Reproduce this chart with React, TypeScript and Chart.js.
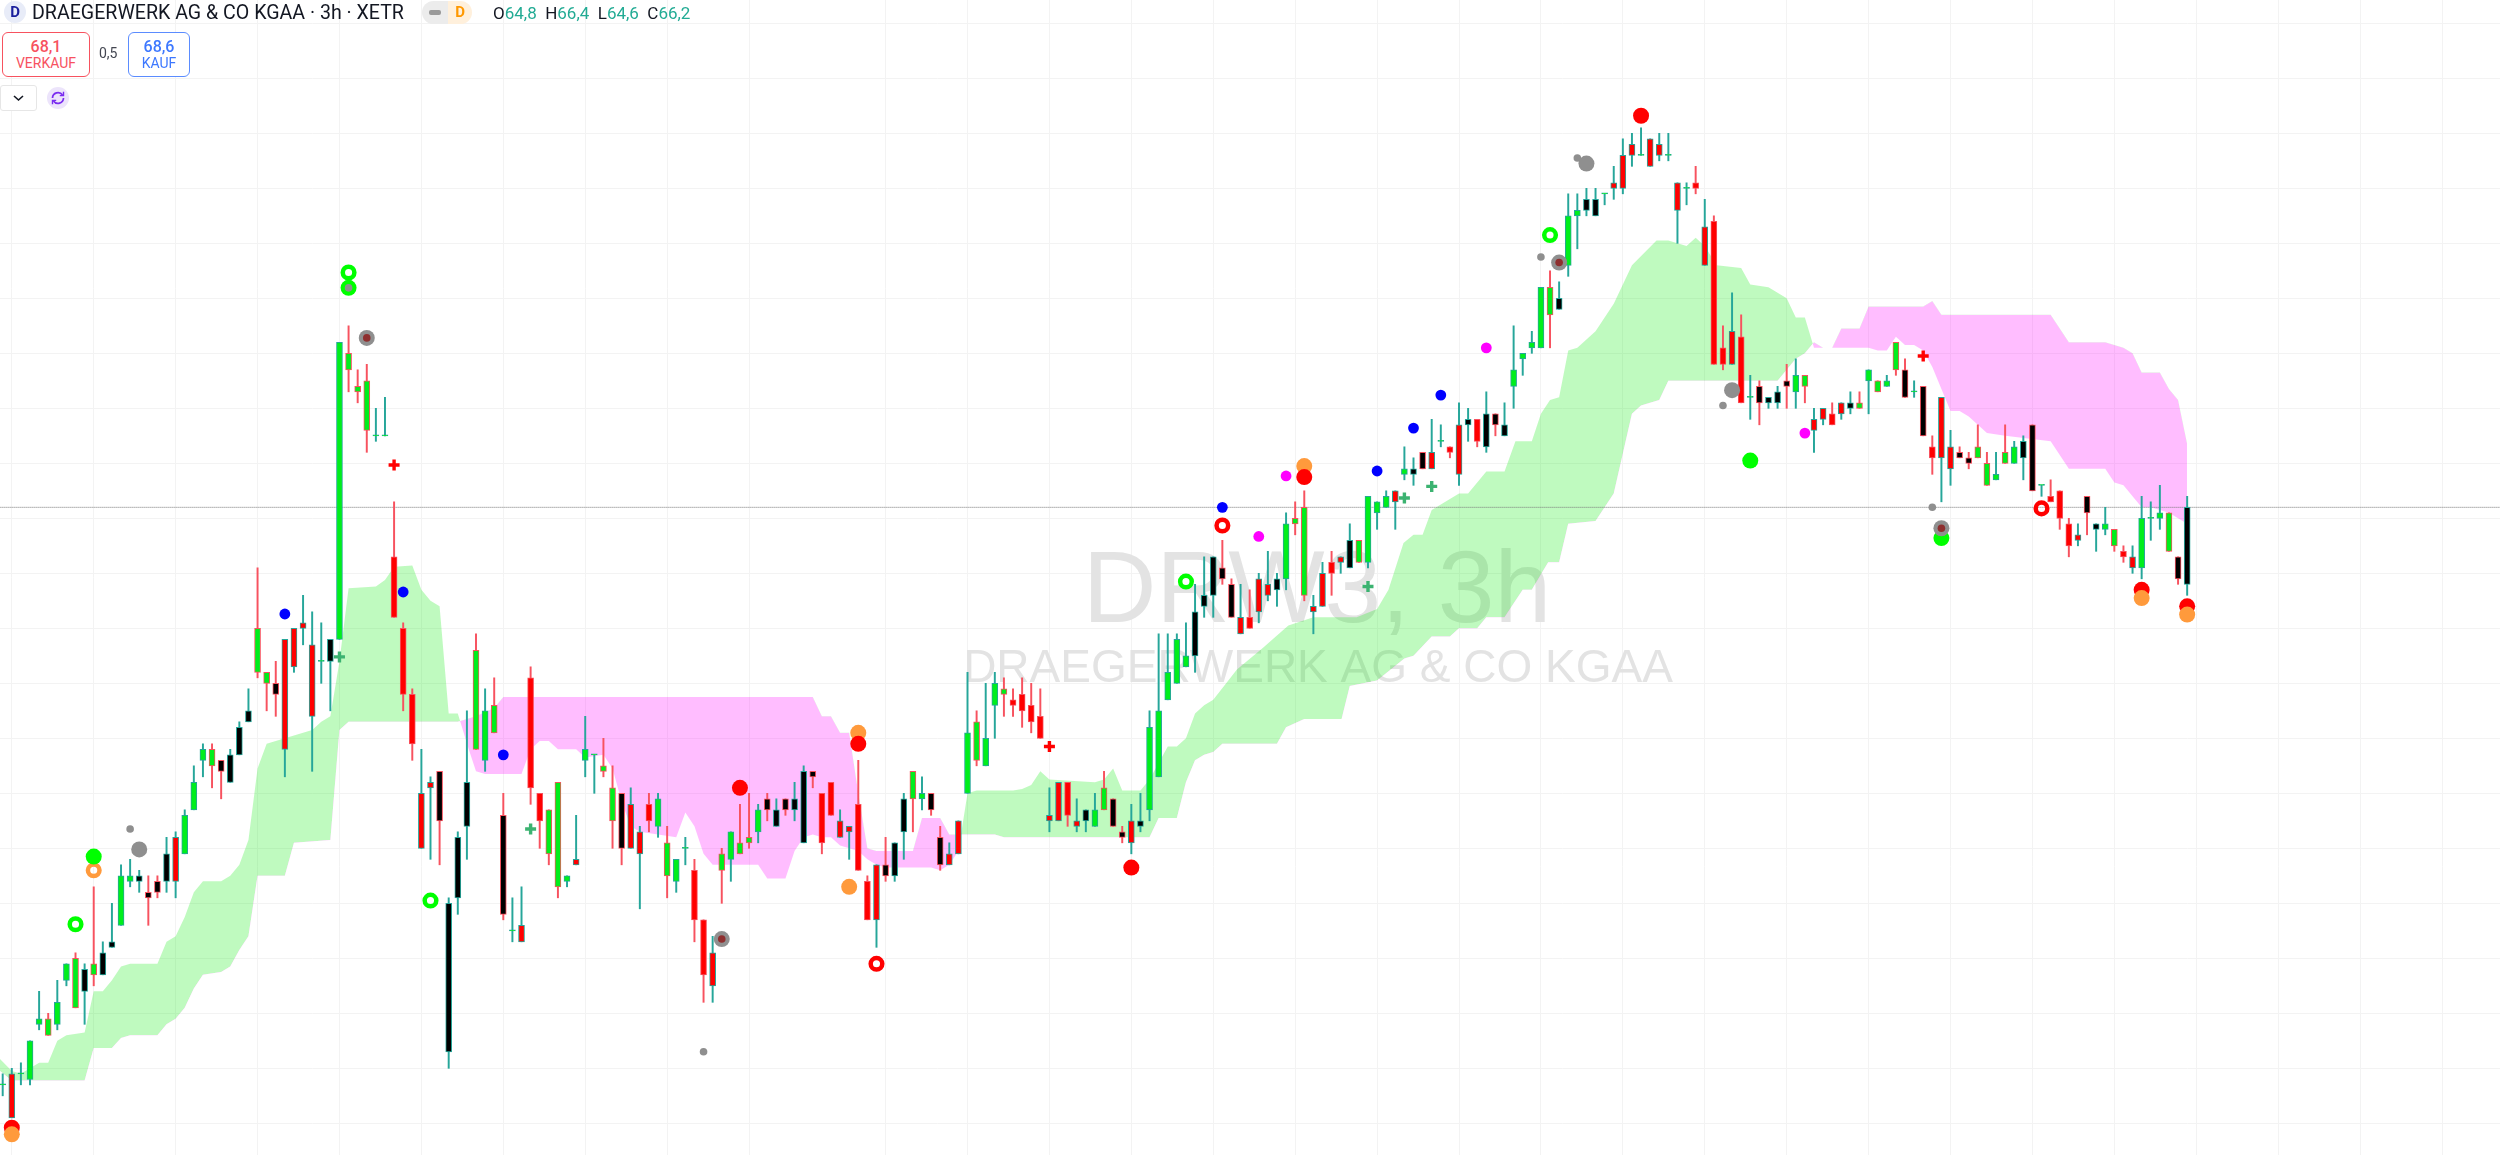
import React, { useEffect, useRef } from "react";
import { Chart, registerables } from "chart.js";

Chart.register(...registerables);

const bodyTops = [
55.7,55.9,55.9,56.5,56.9,56.9,57.2,57.9,58,57.8,
57.9,58.1,58.3,59.5,59.5,59.5,59.2,59.4,59.9,60.2,
60.6,61.2,61.8,61.8,61.6,61.7,62.2,62.5,64,63.2,
63,63.8,64,64.1,63.7,63.4,63.8,69.2,69,68.4,
68.5,67.5,67.5,65.3,64,62.8,61,61.2,61.4,59,
60.2,61.2,63.6,62.5,62.6,60.6,58.5,58.6,63.1,61,
60.7,61.2,59.5,59.8,61.8,61.7,61.5,61.1,61,60.8,
60.3,60.8,60.9,60.1,59.8,60,59.6,58.7,58.1,59.9,
60.3,60.1,60.2,60.7,60.9,60.7,60.9,60.9,61.4,61.4,
61,61.2,60.5,60.4,60.8,59.4,59.7,59.7,60.1,60.9,
61.4,61,61,60.2,59.9,60.5,62.1,62.3,62,63,
62.9,62.7,62.8,62.6,62.4,60.6,61.2,61.2,60.5,60.7,
60.7,61.1,60.9,60.3,60.5,60.5,62.2,62.5,63.2,63.8,
63.5,64.3,64.6,65.3,65.1,64.8,64.2,64.2,64.9,64.8,
64.9,65.9,66,66.2,64.4,65,65.2,65.3,65.6,65.6,
66.4,66.3,66.4,66.5,66.9,66.9,67.2,67.2,67.4,67.3,
67.7,67.8,67.8,67.9,67.9,67.7,68.7,69,69.2,70.2,
70.2,70,71.5,71.6,71.8,71.8,71.9,72.1,72.6,72.8,
72.6,72.9,72.8,72.6,72.1,72,72.1,71.3,71.4,69.1,
69.4,69.3,68.2,68.4,68.2,68.3,68.5,68.6,68.6,67.8,
68,67.9,68.1,68.1,68.1,68.7,68.5,68.5,69.2,68.7,
68.3,68.4,67.3,68.2,67.3,67.2,67.1,67.3,67,66.8,
67.2,67.3,67.4,67.7,66.6,66.4,66.5,65.9,65.7,66.4,
65.9,65.9,65.8,65.4,65.3,66,66,66.1,66.1,65.3,66.2];

const bodyBottoms = [
55.7,55.1,55.9,55.8,56.8,56.6,56.8,57.6,57.1,57.4,
57.7,57.7,58.2,58.6,59.4,59.4,59.1,59.2,59.4,59.4,
59.9,60.7,61.6,61.5,61.4,61.2,61.7,62.3,63.2,63,
62.8,61.8,63.3,64,62.4,63.4,63.4,63.8,68.7,68.3,
67.6,67.5,67.5,64.2,62.8,61.9,60,61.1,60.5,56.3,
59.1,60.4,61.8,61.6,62.1,58.8,58.5,58.3,61.1,60.5,
59.9,59.3,59.4,59.7,61.6,61.7,61.4,60.5,60,60,
59.9,60.5,60.4,59.5,59.4,60,58.7,57.7,57.5,59.6,
59.8,59.9,60.1,60.3,60.7,60.4,60.7,60.7,60.1,61.3,
60.1,60.6,60.2,60.3,59.6,58.7,58.7,59.5,59.5,60.3,
60.9,60.9,60.7,59.7,59.7,59.9,61,61.6,61.5,62.6,
62.8,62.6,62.5,62.3,62,60.5,60.5,60.6,60.4,60.5,
60.4,60.7,60.4,60.2,60.1,60.4,60.7,61.3,62.7,63,
63.3,63.5,64.4,64.6,64.9,64.2,63.9,64,64.3,64.6,
64.7,64.9,65.9,64.6,64.3,64.4,65,65.2,65.1,65.2,
65.2,66.1,66.2,66.3,66.8,66.8,66.9,66.9,67.4,67.2,
66.8,67.7,67.4,67.3,67.7,67.5,68.4,68.9,69.1,69.1,
69.7,69.8,70.6,71.5,71.6,71.5,71.9,72,72,72.6,
72.6,72.4,72.6,72.6,71.6,72,72,70.6,68.8,68.8,
68.8,68.1,68.2,68.1,68.1,68.1,68.4,68.3,68.4,67.6,
67.8,67.7,67.9,68,68,68.5,68.3,68.4,68.7,68.2,
68.3,67.5,67.1,67.1,66.9,67.1,67,67.1,66.6,66.7,
67,67,67.1,66.5,66.6,66.3,66,65.5,65.6,66.1,
65.8,65.8,65.5,65.3,65.1,65.1,66,66,65.4,64.9,64.8];

const highs = [
55.9,56,56.1,56.5,57.4,57,57.6,57.9,58.1,57.9,
59.3,58.3,59,59.7,59.8,59.6,59.5,59.5,60.2,60.3,
60.7,61.5,61.9,61.9,61.6,61.8,62.3,62.9,65.1,63.2,
63.4,63.8,64,64.6,64.3,64.1,63.8,69.2,69.5,68.7,
68.8,68,68.2,66.3,64.1,62.9,61.8,61.3,61.4,59.1,
60.3,62.5,63.9,62.9,63.1,61,59.1,59.3,63.3,61,
60.7,61.2,59.5,60.6,62.4,61.7,62,61.5,61,61.1,
60.4,61,61,60.4,59.8,60.2,59.8,58.7,58.4,60,
60.3,60.8,61,60.8,61,60.9,60.9,61.2,61.5,61.4,
61,61.2,60.7,60.4,61.6,59.5,59.7,60.2,60.1,61,
61.4,61.3,61,60.4,60.1,60.5,63.2,62.5,63,63.2,
63.1,62.9,63.1,63,62.9,61.1,61.2,61.2,60.9,60.7,
61,61.4,60.9,60.4,60.8,61,62.5,63.9,63.9,63.9,
64.1,64.8,65.3,65.3,65.6,64.9,64.8,64.7,65,65.4,
65,66.1,66.3,66.5,64.6,65.2,65.4,65.3,65.9,65.6,
66.4,66.3,66.5,66.5,67.3,67.1,67.2,67.8,67.7,67.3,
68.1,68,67.8,68.3,67.9,68.1,69.5,69,69.4,70.2,
70.5,70.3,71.9,71.9,72,72,71.9,72.4,72.9,73,
73.1,72.9,73,73,72.1,72.1,72.4,71.8,71.5,69.5,
70.1,69.7,68.6,68.5,68.2,68.4,68.8,68.9,68.6,68,
68,68.1,68.1,68.3,68.3,68.7,68.5,68.6,69.2,68.9,
68.5,68.4,67.5,68.2,67.6,67.3,67.2,67.7,67.2,67.2,
67.7,67.4,67.5,67.7,66.6,66.7,66.5,66,65.9,66.4,
65.9,66.2,65.8,65.5,65.5,66.4,66.3,66.6,66.1,65.3,66.4];

const lows = [
55.5,55.1,55.7,55.7,56.7,56.6,56.7,57.5,57.1,56.8,
57.5,57.7,58.2,58.6,59.3,59.2,58.6,59.1,59.2,59.1,
59.9,60.7,61.3,61.1,60.9,61.2,61.7,62.3,63.1,62.5,
62.4,61.3,63.2,63.7,61.4,63,62.5,63.8,68.3,68.1,
67.2,67.4,67.5,64.2,62.5,61.6,60,59.8,59.7,56,
58.8,59.8,61.8,61.4,62.1,58.7,58.3,58.3,60.8,60,
59.7,59.1,59.3,59.7,61.3,61,61.3,60,59.7,60,
58.9,60.3,60.2,59.1,59.2,59.7,58.3,57.2,57.2,59,
59.4,59.9,60,60.1,60.5,60.4,60.6,60.5,60.1,61.1,
59.9,60.6,60.2,59.8,59.6,58.7,58.2,59.4,59.4,59.8,
60.3,60.7,60.6,59.6,59.7,59.9,61,61.5,61.5,62,
62.4,62.4,62.2,62.1,62,60.3,60.5,60.4,60.3,60.3,
60.4,60.7,60.4,60.1,59.9,60.3,60.5,61.3,62.7,63,
63.3,63.2,64.2,64.2,64.8,64.2,63.9,64,64.1,64.5,
64.4,64.7,65.7,64.5,63.9,64.4,64.6,65,65.1,65.2,
65.1,65.8,66.2,65.8,66.7,66.6,66.9,66.9,67.3,67.1,
66.6,67.4,67.3,67.2,67.5,67.5,68,68.6,69,69.1,
69.1,69.8,70.4,70.9,71.5,71.5,71.7,71.8,71.9,72.4,
72.6,72.4,72.5,72.5,71,71.7,71.9,70.6,68.8,68.7,
68.8,68.1,67.8,67.7,68,68,68,68,68.1,67.2,
67.7,67.7,67.8,67.9,68,67.9,68.3,68.4,68.6,68.2,
68.2,67.5,66.8,66.3,66.6,67.1,66.9,67.1,66.6,66.7,
67,67,66.7,66.5,66.4,66.3,65.8,65.3,65.5,65.7,
65.4,65.7,65.4,65.2,65,64.9,65.6,65.8,65.4,64.8,64.6];

const directions = (
"uuuuuduudu duuuuudduu uuudduuudd duuuuuuudd duuddduudu uududduudd dduuuudddu ududuuddud uddududuud dduudduduu " +
"dudduuuduu ddddduuduu uddduuuuuu uuuudduduu uudduuduud uuuuuuduud uududuuuuu duuuuuuuuu uuuuuududd ududuududu " +
"uduudududd udduuddddu duududddud uudduuuuddu"
).replace(/ /g, "");

const bodyFills = (
"grgggggggk gkkggkkkkr ggggkkkkgg krrrrgkggg gggrrrrrkk kkgggkgrrr gggrggggkr rrggggrrrg ggggkkkkkk rrrrrrrkkk " +
"ggkkrrgggg grrrrrrrrk ggkkrkgggg gkkkkkrrrr kgggrrrrkg gggrgkkrgr rkrkkkgggg gkggkkgrrr grrgrgrrrr rrgkkkkggr " +
"rrrkgggggk gkrrrkkggg ggkkgrrrrk kggrrggggkk"
).replace(/ /g, "");

const spanA: [number, number][] = [
[-0.3,56.17],[1,55.95],[2,55.9],[3,56],[4,56.1],[5,56.1],[6,56.5],[7,56.6],[9,56.65],[10,57.4],[11,57.4],[12,57.6],[13,57.85],[14,57.9],[17,57.9],[18,58.3],[19,58.4],[20,58.75],[21,59.2],[22,59.4],[24,59.4],[25,59.5],[26,59.7],[27,60.15],[28,61.45],[29,61.9],[31,62],[32,62.05],[33,62.1],[34,62.15],[35,62.3],[36,62.4],[37,63.4],[38,64.73],[41,64.76],[42,64.88],[43,65.12],[45,65.14],[46,64.7],[47,64.5],[48,64.4],[49,62.45],[50,62.45],
[51.2,61.8],[52,61.4],[53,61.35],[57,61.35],[58,61.8],[59,61.95],[60,61.95],[61,61.8],[63,61.8],[64,61.65],[66,61.7],[67,61.45],[68,60.85],[69,60.4],[70,60.3],[72,60.25],[74,60.2],[75,60.65],[76,60.4],[77,59.9],[78,59.7],[83,59.7],[84,59.45],[86,59.45],[87,59.95],[88,60.2],[89,60.25],[90,60.2],[91,60.2],[92,60.05],[93,60],[94,59.95],[95,59.8],[96,59.7],[97,59.65],[102,59.65],[103,59.6],[104,59.7],[105,59.95],
[106,61],[107,61.05],[111,61.05],[112,61.08],[113,61.15],[114,61.4],[115,61.25],[120,61.2],[121,61.25],[122,61.45],[123,61.05],[125,61.05],[126,61.25],[127,61.55],[128,61.85],[129,61.85],[130,62],[131,62.45],[132,62.6],[133,62.7],[135.6,63.25],[138.5,63.65],[141.25,64.05],[144,64.2],[148.75,64.2],[151,64.35],[152.25,64.7],[153.9,65.55],[155,65.7],[156,65.7],[157,66.15],[160,66.45],[161,66.45],[163,66.85],[165,66.85],[166.2,67.4],[168,67.4],[169,67.9],[170,68.15],[171,68.2],[172,69.05],[173,69.1],[175,69.4],[177,69.9],[179,70.6],[181.7,71.05],[183,71.05],[184,71],[185,70.95],[186,71.1],[187,70.95],[188.3,70.6],[191,70.55],[192,70.25],[194,70.2],[196,70],[197,69.65],[198,69.65],
[199,69.1],[204,69.1],[205,69.1],[206,69.05],[207,69.05],[208,69.3],[209,69.15],[210,69.15],[211,69.05],[212,68.75],[213,68.35],[214,67.95],[215,67.95],[216,67.85],[217,67.7],[218,67.55],[220,67.5],[225,67.4],[227,66.9],[231,66.9],[232,66.65],[233,66.6],[234,66.4],[235,66.2],[236,66.2],[238,66.1],[240,65.9]];

const spanB: [number, number][] = [
[-0.3,55.95],[1,55.78],[9,55.78],[10,56.37],[12,56.37],[13,56.55],[14,56.6],[17,56.6],[18,56.8],[19,56.9],[20,57.1],[21,57.45],[22,57.7],[24,57.75],[25,57.85],[26,58.15],[27,58.4],[28,59.5],[31,59.5],[32,60.1],[36,60.15],[37,62.15],[38,62.3],[50,62.3],[52,62.4],[54,62.55],[55,62.75],[89,62.75],[90,62.4],[91,62.4],[92,62.1],[93,62.1],[94,61],[95,60],[96,59.95],[100,59.95],[101,60.55],[103,60.55],[104,60.25],[109,60.25],[110,60.2],[126,60.2],[127,60.55],[129,60.55],[130,61.2],[131,61.6],[132,61.7],[133,61.75],[134,61.9],[140,61.9],[141,62.2],[143,62.35],[147.1,62.35],[148,62.95],[151,63.05],[154,63.45],[155,63.5],[157,63.85],[159,63.85],[160,64],[162,64],[163,64.2],[165,64.2],[167,64.7],[168,64.7],[169.8,65.2],[171,65.2],[172,65.9],[175,65.95],[177,66.45],[179,67.9],[180,68.05],[182,68.15],[183,68.5],[195,68.5],[197,68.9],[198,69],
[199,69.2],[200,69.1],[201,69.1],[202,69.45],[204,69.45],[205,69.85],[211,69.85],[212,69.95],[213,69.7],[225,69.7],[227,69.2],[231,69.2],[233,69.1],[234,69],[235,68.65],[237,68.65],[238,68.35],[239,68.15],[240,67.35]];

const orangeUnderRed: [number, number][] = [[94,62.1],[143,66.95]];
const orangeOverRed: [number, number][] = [[1,54.8],[93,59.3],[235,64.55],[240,64.25]];
const redDots: [number, number][] = [[1,54.92],[81,61.1],[94,61.9],[124,59.65],[143,66.75],[180,73.32],[235,64.7],[240,64.4]];
const limeDots: [number, number][] = [[10,59.85],[38,70.19],[192,67.05],[213,65.64]];
const blueDots: [number, number][] = [[31,64.26],[44,64.66],[55,61.7],[134,66.2],[151,66.86],[155,67.64],[158,68.24]];
const magentaDots: [number, number][] = [[138,65.67],[141,66.77],[163,69.1],[198,67.55]];
const grayBig: [number, number][] = [[15,59.98],[40,69.28],[79,58.35],[171,70.65],[174,72.45],[190,68.33],[213,65.82]];
const graySmall: [number, number][] = [[14,60.35],[38,70.19],[77,56.3],[169,70.75],[173,72.55],[189,68.05],[212,66.2]];
const darkCenters: [number, number][] = [[40,69.28],[79,58.35],[171,70.65],[213,65.82]];
const limeRings: [number, number][] = [[8,58.62],[38,70.47],[47,59.05],[130,64.85],[170,71.15]];
const redRings: [number, number][] = [[96,57.9],[134,65.87],[224,66.18]];
const orangeRings: [number, number][] = [[10,59.6]];
const greenPlus: [number, number][] = [[37,63.48],[58,60.35],[150,64.76],[154,66.37],[157,66.58]];
const redPlus: [number, number][] = [[43,66.97],[115,61.85],[211,68.95]];

const lastClose = 66.2;
const gridPrices = [55,56,57,58,59,60,61,62,63,64,65,66,67,68,69,70,71,72,73,74,75];
const gridCandles = [1,10,19,28,37,46,55,64,73,82,97,106,115,124,133,142,151,160,169,178,187,196,205,214,223,232,241,250,259,268];

const TEAL = "#26a69a";
const RED = "#f7525f";
const FILLS: Record<string, string> = { g: "#00ee1c", r: "#ff0000", k: "#000000" };

const xy = (pts: [number, number][]) => pts.map(([x, y]) => ({ x, y }));

function dots(data: [number, number][], color: string, radius: number, order: number) {
  return { type: "scatter", data: xy(data), pointRadius: radius, pointBackgroundColor: color, pointBorderWidth: 0, showLine: false, order };
}
function rings(data: [number, number][], color: string, order: number) {
  return { type: "scatter", data: xy(data), pointRadius: 5.8, pointBackgroundColor: "rgba(255,255,255,0)", pointBorderColor: color, pointBorderWidth: 4.5, showLine: false, order };
}
function plus(data: [number, number][], color: string, order: number) {
  return { type: "scatter", data: xy(data), pointStyle: "cross", pointRadius: 5.5, pointBorderColor: color, pointBorderWidth: 3.4, showLine: false, order };
}

const watermark = {
  id: "watermark",
  beforeDatasetsDraw(chart: any) {
    const { ctx } = chart;
    ctx.save();
    ctx.fillStyle = "#e3e3e3";
    ctx.textAlign = "center";
    ctx.textBaseline = "alphabetic";
    ctx.font = '102px "Liberation Sans"';
    ctx.fillText("DRW3, 3h", 1317, 622);
    ctx.font = '46px "Liberation Sans"';
    ctx.fillText("DRAEGERWERK AG & CO KGAA", 1318, 682);
    ctx.restore();
  },
};

export default function App() {
  const ref = useRef<HTMLCanvasElement>(null);
  useEffect(() => {
    const idx = bodyTops.map((_, i) => i);
    const strokes = idx.map((i) => (directions[i] === "u" ? TEAL : RED));
    const chart = new Chart(ref.current as HTMLCanvasElement, {
      type: "bar",
      data: {
        datasets: [
          { type: "line", data: xy(spanA), borderWidth: 0, pointRadius: 0, tension: 0, fill: { target: 1, above: "rgba(0,235,0,0.25)", below: "rgba(255,0,255,0.26)" }, order: 40 },
          { type: "line", data: xy(spanB), borderWidth: 0, pointRadius: 0, tension: 0, fill: false, order: 41 },
          { type: "line", data: [{ x: -1, y: lastClose }, { x: 275, y: lastClose }], borderColor: "#777777", borderWidth: 1, borderDash: [1, 1], pointRadius: 0, order: 30 },
          { type: "bar", data: idx.map((i) => ({ x: i, y: [lows[i], highs[i]] })), backgroundColor: strokes, borderWidth: 0, barThickness: 1.3, grouped: false, order: 21 },
          { type: "bar", data: idx.map((i) => ({ x: i, y: [bodyBottoms[i], bodyTops[i]] })), backgroundColor: idx.map((i) => FILLS[bodyFills[i]]), borderColor: strokes, borderWidth: 1, borderSkipped: false, barThickness: 6, minBarLength: 1, grouped: false, order: 20 },
          dots(orangeUnderRed, "#ff9a3c", 8, 12),
          dots(redDots, "#ff0000", 8, 11),
          dots(orangeOverRed, "#ff9a3c", 8, 10),
          rings(orangeRings, "#ff9a3c", 9),
          dots(limeDots, "#00ff00", 8, 8),
          rings(limeRings, "#00ff00", 7),
          rings(redRings, "#ff0000", 7),
          dots(blueDots, "#0000ff", 5.4, 6),
          dots(magentaDots, "#ff00ff", 5.4, 6),
          dots(grayBig, "#8f8f8f", 8, 5),
          dots(graySmall, "#8f8f8f", 3.8, 4),
          dots(darkCenters, "#8e2f2f", 3.8, 3),
          plus(greenPlus, "#3cb371", 2),
          plus(redPlus, "#ff0000", 2),
        ] as any,
      },
      options: {
        responsive: false,
        animation: false,
        events: [],
        layout: { padding: 0, autoPadding: false },
        plugins: { legend: { display: false }, tooltip: { enabled: false } },
        scales: {
          x: {
            type: "linear", offset: false, min: -0.2966, max: 274.37,
            ticks: { display: false }, border: { display: false },
            grid: { color: "#f3f3f3", drawTicks: false, offset: false, lineWidth: 1 },
            afterBuildTicks: (s: any) => { s.ticks = gridCandles.map((value) => ({ value })); },
          },
          y: {
            type: "linear", min: 54.424, max: 75.424,
            ticks: { display: false }, border: { display: false },
            grid: { color: "#f3f3f3", drawTicks: false, lineWidth: 1 },
            afterBuildTicks: (s: any) => { s.ticks = gridPrices.map((value) => ({ value })); },
          },
        },
      } as any,
      plugins: [watermark],
    });
    return () => chart.destroy();
  }, []);

  const font = "Roboto, sans-serif";
  const abs = (style: React.CSSProperties): React.CSSProperties => ({ position: "absolute", whiteSpace: "nowrap", fontFamily: font, ...style });
  const val = "#22ab94";
  return (
    <div style={{ position: "absolute", left: 0, top: 0, width: 2500, height: 1155, background: "#fff", overflow: "hidden" }}>
      <canvas ref={ref} width={2500} height={1155} style={{ display: "block", position: "absolute", left: 0, top: 0 }} />
      <div style={abs({ left: 4, top: 1, width: 22, height: 22, borderRadius: 11, background: "#e8ecf8", color: "#1a1f9c", fontWeight: 700, fontSize: 15, lineHeight: "22px", textAlign: "center" })}>D</div>
      <div style={abs({ left: 32, top: 2, fontSize: 19.6, lineHeight: "22px", color: "#131722" })}>DRAEGERWERK AG &amp; CO KGAA · 3h · XETR</div>
      <div style={abs({ left: 422, top: 1, width: 26, height: 23, background: "#ececec", borderRadius: "12px 0 0 12px" })}>
        <div style={{ position: "absolute", left: 7, top: 9, width: 12, height: 5, borderRadius: 2, background: "#9a9a9a" }} />
      </div>
      <div style={abs({ left: 448, top: 1, width: 24, height: 23, background: "#fff0dc", borderRadius: "0 12px 12px 0", color: "#ff9800", fontSize: 15, fontWeight: 700, lineHeight: "23px", textAlign: "center" })}>D</div>
      <div style={abs({ left: 493, top: 2, fontSize: 17, lineHeight: "22px", color: "#131722" })}>
        O<span style={{ color: val }}>64,8</span>&nbsp;&nbsp;H<span style={{ color: val }}>66,4</span>&nbsp;&nbsp;L<span style={{ color: val }}>64,6</span>&nbsp;&nbsp;C<span style={{ color: val }}>66,2</span>
      </div>
      <div style={abs({ left: 2, top: 32, width: 86, height: 43, border: "1px solid #f7525f", borderRadius: 6, background: "#fff", color: "#f7525f", textAlign: "center" })}>
        <div style={{ fontSize: 16, fontWeight: 500, lineHeight: "15px", marginTop: 6 }}>68,1</div>
        <div style={{ fontSize: 14, lineHeight: "15px", marginTop: 2 }}>VERKAUF</div>
      </div>
      <div style={abs({ left: 99, top: 45, fontSize: 14, lineHeight: "16px", color: "#434651" })}>0,5</div>
      <div style={abs({ left: 128, top: 32, width: 60, height: 43, border: "1px solid #5b8cff", borderRadius: 6, background: "#fff", color: "#3d78ff", textAlign: "center" })}>
        <div style={{ fontSize: 16, fontWeight: 500, lineHeight: "15px", marginTop: 6 }}>68,6</div>
        <div style={{ fontSize: 14, lineHeight: "15px", marginTop: 2 }}>KAUF</div>
      </div>
      <div style={abs({ left: 0, top: 85, width: 35, height: 24, border: "1px solid #e6e6e6", borderRadius: 3, background: "#fff" })}>
        <svg width="35" height="24" style={{ display: "block" }}><path d="M13 10 L17.5 14 L22 10" fill="none" stroke="#131722" strokeWidth="1.6" /></svg>
      </div>
      <svg width="24" height="24" style={{ position: "absolute", left: 46, top: 86 }}>
        <circle cx="12" cy="12" r="11" fill="#ece4fb" />
        <path d="M6.5 12 A5.5 5.5 0 0 1 16.5 9 M17.5 12 A5.5 5.5 0 0 1 7.5 15" fill="none" stroke="#7a2cf0" strokeWidth="1.7" />
        <path d="M17.5 5.8 V9.6 H13.8 M6.5 18.2 V14.4 H10.2" fill="none" stroke="#7a2cf0" strokeWidth="1.4" />
      </svg>
    </div>
  );
}
